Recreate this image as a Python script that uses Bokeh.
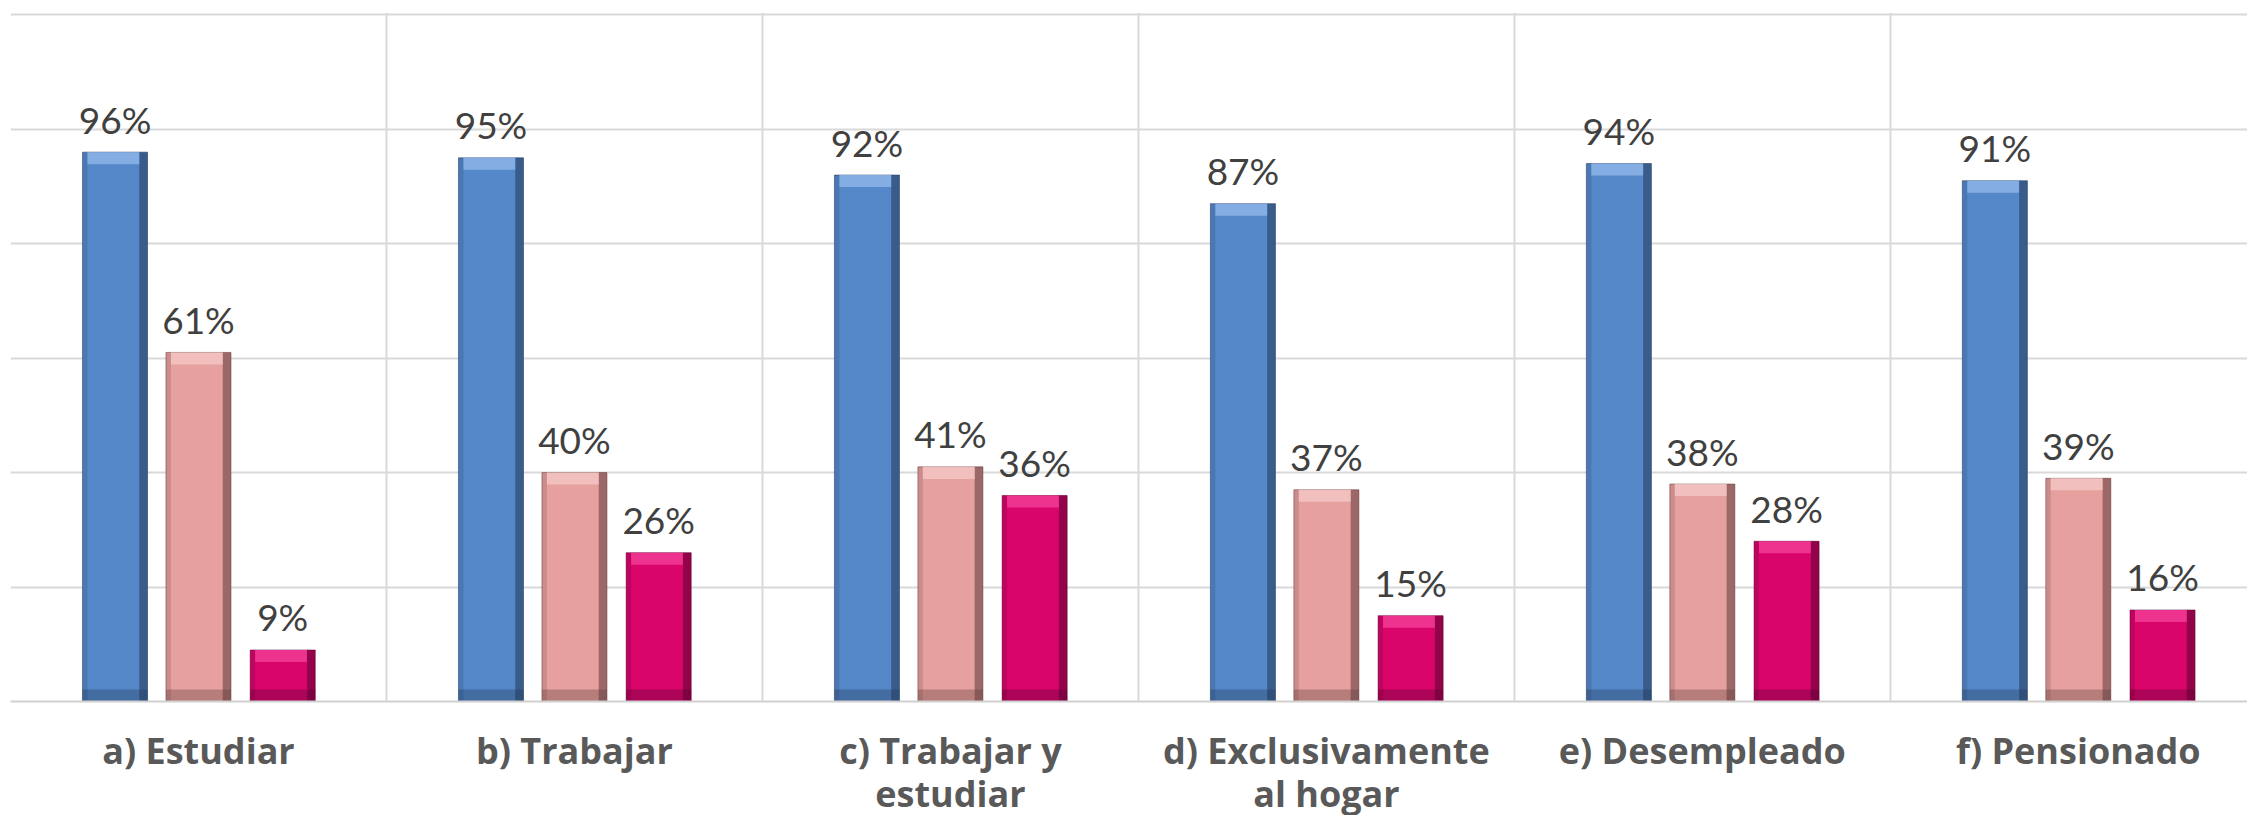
from bokeh.plotting import figure
from bokeh.models import FixedTicker, ColumnDataSource
from bokeh.core.properties import value
from bokeh.embed import file_html
from bokeh.resources import INLINE

categories = ["a) Estudiar", "b) Trabajar", "c) Trabajar y\nestudiar",
              "d) Exclusivamente\nal hogar", "e) Desempleado", "f) Pensionado"]
serie_azul = [96, 95, 92, 87, 94, 91]
serie_rosa = [61, 40, 41, 37, 38, 39]
serie_magenta = [9, 26, 36, 15, 28, 16]

series = [
    (serie_azul, "#5588C8", "#8DB4E8", "#22385A"),
    (serie_rosa, "#E6A09E", "#F2C4C2", "#5E3B3A"),
    (serie_magenta, "#D9056B", "#F03C94", "#5A0230"),
]
offsets = [-0.222, 0.0, 0.224]
bar_w = 0.173

p = figure(frame_width=2237, frame_height=689, output_backend="svg", toolbar_location=None,
           x_range=(0, 5.95), y_range=(0, 120.4),
           min_border_left=10, min_border_right=0, min_border_top=12, min_border_bottom=100)
p.outline_line_color = None
p.background_fill_color = "white"
p.border_fill_color = "white"

p.yaxis.visible = False
p.ygrid.ticker = FixedTicker(ticks=[0, 20, 40, 60, 80, 100, 120])
p.ygrid.grid_line_color = "#D9D9D9"
p.ygrid.grid_line_width = 2
p.xgrid.ticker = FixedTicker(ticks=[0, 1, 2, 3, 4, 5, 6])
p.xgrid.grid_line_color = "#D9D9D9"
p.xgrid.grid_line_width = 2

centers = [i + 0.5 for i in range(len(categories))]
p.xaxis.ticker = FixedTicker(ticks=centers)
p.xaxis.major_label_overrides = {c: lab for c, lab in zip(centers, categories)}
p.xaxis.major_label_text_font = "Open Sans"
p.xaxis.major_label_text_font_style = "bold"
p.xaxis.major_label_text_font_size = "36px"
p.xaxis.major_label_text_color = "#595959"
p.xaxis.major_label_text_line_height = 0.88
p.xaxis.major_label_standoff = 18
p.xaxis.major_tick_line_color = None
p.xaxis.minor_tick_line_color = None
p.xaxis.axis_line_color = "#D0D0D0"
p.xaxis.axis_line_width = 2

band_h = 2.1
side_w = 0.022
for (vals, col, light, dark), off in zip(series, offsets):
    xs = [c + off for c in centers]
    src = ColumnDataSource(dict(
        x=xs, top=vals,
        left=[x - bar_w / 2 for x in xs], right=[x + bar_w / 2 for x in xs],
        lab=[f"{v}%" for v in vals],
        band_bottom=[v - band_h for v in vals],
        rleft=[x + bar_w / 2 - side_w for x in xs],
        lright=[x - bar_w / 2 + side_w * 0.6 for x in xs],
    ))
    p.vbar(x="x", top="top", bottom=0, width=bar_w, source=src,
           fill_color=col, line_color=dark, line_width=1, line_alpha=0.5)
    # bevel: darker right edge, slightly darker left edge, light top, dark bottom
    p.quad(left="rleft", right="right", bottom=0, top="top", source=src,
           fill_color=dark, fill_alpha=0.55, line_color=None)
    p.quad(left="left", right="lright", bottom=0, top="top", source=src,
           fill_color=dark, fill_alpha=0.2, line_color=None)
    p.quad(left="lright", right="rleft", bottom="band_bottom", top="top", source=src,
           fill_color=light, fill_alpha=0.85, line_color=None)
    p.quad(left="left", right="right", bottom=0, top=band_h, source=src,
           fill_color=dark, fill_alpha=0.35, line_color=None)
    p.text(x="x", y="top", text="lab", source=src,
           text_font=value("Lato"), text_font_size="37px", text_color="#404040",
           text_align="center", text_baseline="alphabetic", y_offset=-33)

open("out.html", "w").write(file_html(p, INLINE))
